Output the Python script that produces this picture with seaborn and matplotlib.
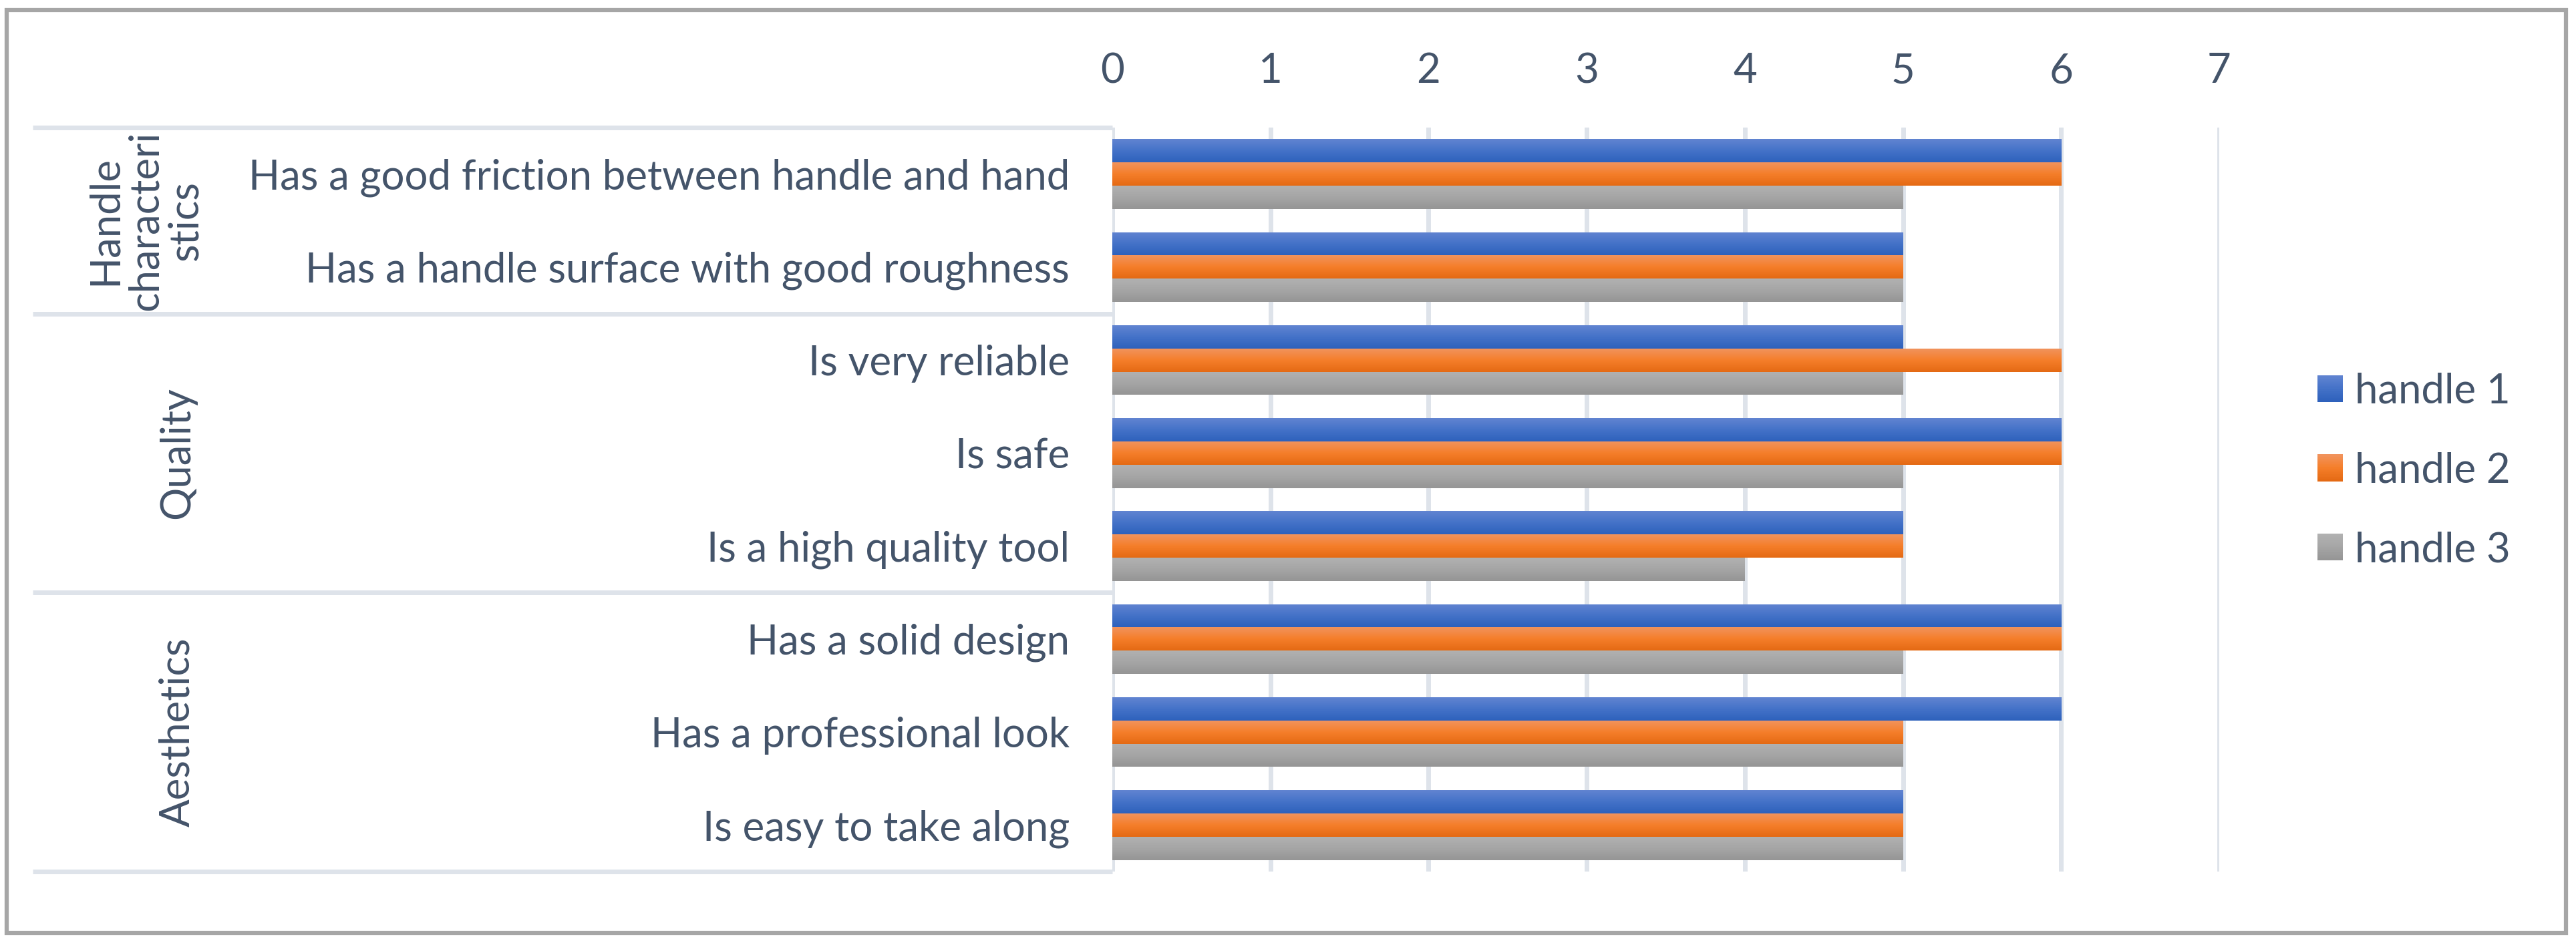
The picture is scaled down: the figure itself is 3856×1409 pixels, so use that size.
import numpy as np
import pandas as pd
import matplotlib
matplotlib.use("Agg")
import matplotlib.pyplot as plt
import seaborn as sns
from matplotlib.patches import Rectangle
from matplotlib.legend_handler import HandlerBase
from matplotlib.colors import LinearSegmentedColormap, to_rgb

# ---------------- data ----------------
questions = [
    "Has a good friction between handle and hand",
    "Has a handle surface with good roughness",
    "Is very reliable",
    "Is safe",
    "Is a high quality tool",
    "Has a solid design",
    "Has a professional look",
    "Is easy to take along",
]
series_names = ["handle 1", "handle 2", "handle 3"]
handle1 = [6, 5, 5, 6, 5, 6, 6, 5]
handle2 = [6, 5, 6, 6, 5, 6, 5, 5]
handle3 = [5, 5, 5, 5, 4, 5, 5, 5]
groups = ["Handle\ncharacteri\nstics", "Quality", "Aesthetics"]
group_sizes = [2, 3, 3]
x_ticks = [0, 1, 2, 3, 4, 5, 6, 7]

# ---------------- style ----------------
W, H = 3856, 1409
DPI = 100
TXT = "#44546A"
GRID = "#DEE3EA"
FS = 44.5

grad_colors = {
    "handle 1": ["#6184D1", "#4472C8", "#2E61BC"],
    "handle 2": ["#F1935C", "#F57E2A", "#E46A14"],
    "handle 3": ["#B1B1B1", "#A5A5A5", "#959595"],
}
mid_colors = [grad_colors[s][1] for s in series_names]

sns.set_theme(style="white")
plt.rcParams["font.family"] = ["Lato", "DejaVu Sans"]

df = pd.DataFrame({
    "question": questions * 3,
    "handle": sum([[s] * len(questions) for s in series_names], []),
    "score": handle1 + handle2 + handle3,
})

fig = plt.figure(figsize=(W / DPI, H / DPI), dpi=DPI)
ax_left, ax_right = 1665 / W, 3322 / W
ax_top, ax_bot = 191 / H, 1305 / H
ax = fig.add_axes([ax_left, 1 - ax_bot, ax_right - ax_left, ax_bot - ax_top])

sns.barplot(data=df, y="question", x="score", hue="handle", order=questions,
            hue_order=series_names, palette=mid_colors, orient="h", width=0.752,
            errorbar=None, legend=False, ax=ax, zorder=3)

xlim = (0, 7)
ylim = ax.get_ylim()

# gradient fills on bars
def grad_img(cols, n=64):
    cmap = LinearSegmentedColormap.from_list("g", cols)
    return cmap(np.linspace(0, 1, n))[:, None, :3]

mid_rgb = [np.array(to_rgb(c)) for c in mid_colors]
for p in list(ax.patches):
    fc = np.array(p.get_facecolor()[:3])
    idx = int(np.argmin([np.abs(fc - m).sum() for m in mid_rgb]))
    x0, y0, w, h = p.get_x(), p.get_y(), p.get_width(), p.get_height()
    if w <= 0:
        continue
    im = ax.imshow(grad_img(grad_colors[series_names[idx]]),
                   extent=[x0, x0 + w, y0 + h, y0], origin="upper",
                   aspect="auto", zorder=3, interpolation="bilinear")
    im.set_clip_path(p)
    p.set_facecolor("none")
    p.set_edgecolor("none")

ax.set_xlim(*xlim)
ax.set_ylim(*ylim)
ax.set_xticks(x_ticks)
ax.xaxis.tick_top()
ax.grid(axis="x", color=GRID, linewidth=5, zorder=0)
ax.set_axisbelow(True)
for s in ax.spines.values():
    s.set_visible(False)
ax.tick_params(axis="x", length=0, pad=40, labelsize=FS, labelcolor=TXT)
ax.tick_params(axis="y", length=0, pad=46, labelsize=FS, labelcolor=TXT)
ax.set_xlabel("")
ax.set_ylabel("")

# group dividers and labels
bounds = np.concatenate([[0], np.cumsum(group_sizes)]) - 0.5
trans = ax.get_yaxis_transform()
x_div = (49 - 1665) / (3322 - 1665)
for b in bounds:
    ax.plot([x_div, 0], [b, b], transform=trans, clip_on=False, color=GRID,
            linewidth=5, solid_capstyle="butt", zorder=1)
label_x = [(218 - 1665) / (3322 - 1665), (266 - 1665) / (3322 - 1665),
           (266 - 1665) / (3322 - 1665)]
for g, lo, hi, lx in zip(groups, bounds[:-1], bounds[1:], label_x):
    ax.text(lx, (lo + hi) / 2, g, transform=trans, rotation=90, ha="center",
            va="center", multialignment="center", fontsize=FS, color=TXT,
            linespacing=1.07)

# legend with gradient squares
class GradHandler(HandlerBase):
    def __init__(self, cols):
        super().__init__()
        self.cols = cols

    def create_artists(self, legend, orig_handle, xdescent, ydescent, width,
                       height, fontsize, trans):
        n = 24
        cmap = LinearSegmentedColormap.from_list("g", self.cols)
        arts = []
        for i in range(n):
            yy = -ydescent + height * (1 - (i + 1) / n)
            r = Rectangle((-xdescent, yy), width, height / n + 0.3,
                          facecolor=cmap(i / (n - 1)), edgecolor="none",
                          transform=trans)
            arts.append(r)
        return arts

handles = [Rectangle((0, 0), 1, 1) for _ in series_names]
hmap = {h: GradHandler(grad_colors[s]) for h, s in zip(handles, series_names)}
leg = fig.legend(handles, series_names, handler_map=hmap, loc="center left",
                 bbox_to_anchor=(3469 / W, 1 - 705 / H), frameon=False,
                 fontsize=FS, handlelength=0.61, handleheight=0.61,
                 handletextpad=0.3, labelspacing=1.0, borderpad=0,
                 borderaxespad=0)
for t in leg.get_texts():
    t.set_color(TXT)

# outer border
fig.patches.append(Rectangle((9.5 / W, 1 - 1397 / H), (3840.5 - 9.5) / W,
                             (1397 - 14.5) / H, transform=fig.transFigure,
                             fill=False, edgecolor="#A6A6A6", linewidth=4.5,
                             zorder=0))

fig.savefig("out.png", dpi=DPI)
